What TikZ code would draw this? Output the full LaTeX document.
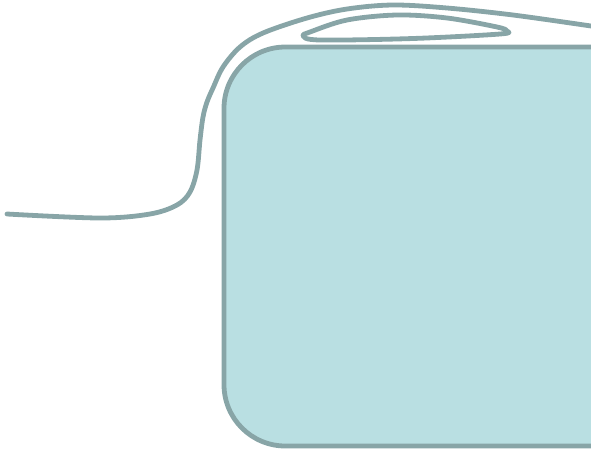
\documentclass[tikz,border=0pt]{standalone}
\usetikzlibrary{positioning}
\definecolor{wirecol}{HTML}{88A5A7}
\definecolor{boxfill}{HTML}{B9DFE2}
\tikzset{
  wire/.style={draw=wirecol, line width=3.6pt, line cap=round, line join=round},
}
\begin{document}
\begin{tikzpicture}[x=0.75pt, y=-0.75pt]
  \useasboundingbox (0,0) rectangle (591,451);
  % box
  \draw[wire, fill=boxfill, rounded corners=46pt] (640,47) -- (224,47) -- (224,446) -- (640,446);
  % cable from the left
  \draw[wire] plot[smooth, tension=0.55] coordinates {(7,214) (100,218) (150,214) (177,205) (190,192) (197,170) (200,140) (203,117) (207,102) (213,88) (223,67) (240,47) (263,33) (307,18) (347,9) (393,5) (447,8) (513,15) (591,26)};
  % loop on top
  \draw[wire] plot[smooth cycle, tension=0.55] coordinates {(303,36) (320,40) (413,38.5) (500,34) (507,31) (497,27) (447,18) (397,15) (347,20) (310,32)};
\end{tikzpicture}
\end{document}
